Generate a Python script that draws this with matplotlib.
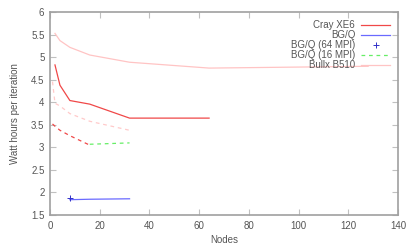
import matplotlib
matplotlib.use("Agg")
import matplotlib.pyplot as plt

# ---- data ----
cray_x = [2, 4, 8, 16, 32, 64]
cray_y = [4.83, 4.38, 4.04, 3.96, 3.65, 3.65]

bgq_x = [8, 16, 32]
bgq_y = [1.84, 1.85, 1.86]

bgq64_x = [8]
bgq64_y = [1.87]

bgq16_x = [16, 32]
bgq16_y = [3.07, 3.10]

bullx_x = [2, 4, 8, 16, 32, 64, 128]
bullx_y = [5.53, 5.37, 5.22, 5.05, 4.89, 4.76, 4.80]

# untitled dashed series
red_dash_x = [1, 2, 4, 8, 16]
red_dash_y = [3.52, 3.47, 3.38, 3.26, 3.05]
pink_dash_x = [1, 2, 4, 8, 16, 32]
pink_dash_y = [4.46, 3.98, 3.92, 3.75, 3.58, 3.38]

xticks = list(range(0, 141, 20))
yticks = [1.5, 2, 2.5, 3, 3.5, 4, 4.5, 5, 5.5, 6]

plt.rcParams['font.family'] = ['Liberation Sans', 'DejaVu Sans']

fig = plt.figure(figsize=(4.15, 2.49), dpi=100)
ax = fig.add_axes([0.1205, 0.1365, 0.8385, 0.8145])

ax.plot(cray_x, cray_y, color='#f04848', lw=0.9, label='Cray XE6')
ax.plot(bgq_x, bgq_y, color='#6a6aff', lw=0.9, label='BG/Q')
ax.plot(bgq64_x, bgq64_y, ls='none', marker='+', ms=5, mew=0.7,
        color='#3030c8', label='BG/Q (64 MPI)')
ax.plot(bgq16_x, bgq16_y, color='#66ee66', lw=0.9, ls=(0, (3, 3)),
        label='BG/Q (16 MPI)')
ax.plot(bullx_x, bullx_y, color='#ffc4c4', lw=0.9, label='Bullx B510')
ax.plot(red_dash_x, red_dash_y, color='#f04848', lw=0.9, ls=(0, (3, 3)))
ax.plot(pink_dash_x, pink_dash_y, color='#ffcaca', lw=0.9, ls=(0, (3, 3)))

ax.set_xlim(0, 140)
ax.set_ylim(1.5, 6)
ax.set_xticks(xticks)
ax.set_yticks(yticks)
ax.set_yticklabels([f"{v:g}" for v in yticks])

for s in ax.spines.values():
    s.set_color('#a0a0a0')
    s.set_linewidth(1.2)
ax.tick_params(direction='in', length=4, width=0.8, color='#c0c0c0',
               top=True, right=True, labelsize=7, labelcolor='#555555', pad=4)

ax.set_xlabel('Nodes', fontsize=7, color='#555555', labelpad=3)
ax.set_ylabel('Watt hours per iteration', fontsize=7, color='#555555', labelpad=8)

leg = ax.legend(loc='upper right', frameon=False, markerfirst=False,
                fontsize=7, handlelength=3.0, labelspacing=0.0,
                borderaxespad=0.4, handletextpad=0.6)
for t in leg.get_texts():
    t.set_color('#555555')

fig.savefig('out.png', dpi=100)
